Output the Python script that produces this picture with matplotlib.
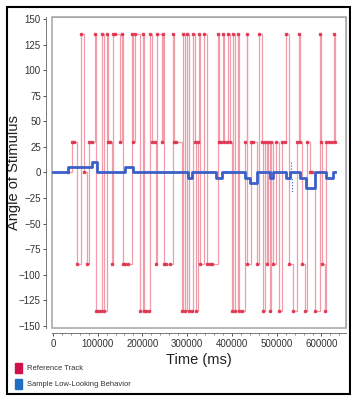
import matplotlib
matplotlib.use("Agg")
import matplotlib.pyplot as plt
from matplotlib.patches import Rectangle
from matplotlib.ticker import MultipleLocator

plt.rcParams['font.family'] = ['Liberation Sans', 'DejaVu Sans']

# reference track: time (s) and angle (deg)
ref_time_s = [33.5, 42.4, 46.9, 53.6, 62.5, 69.2, 75.9, 80.4, 87.0, 93.7,
              96.0, 100.4, 107.1, 109.4, 113.8, 120.5, 122.8, 127.2, 131.7, 133.9,
              138.4, 149.5, 154.0, 156.2, 160.7, 167.4, 176.3, 178.6, 183.0, 194.2,
              200.9, 203.1, 207.6, 214.3, 216.5, 221.0, 227.7, 229.9, 232.1, 243.3,
              245.5, 247.8, 252.2, 261.1, 267.8, 270.1, 274.5, 287.9, 290.2, 294.6,
              299.1, 303.6, 310.2, 312.5, 317.0, 319.2, 323.6, 325.9, 328.1, 337.0,
              343.7, 350.4, 354.9, 368.3, 370.5, 375.0, 379.4, 381.7, 388.4, 390.6,
              395.1, 399.5, 401.8, 406.2, 412.9, 415.2, 421.8, 428.5, 433.0, 434.1,
              441.9, 446.4, 455.3, 459.8, 466.5, 468.7, 473.2, 477.6, 479.9, 484.3,
              486.6, 491.0, 497.7, 504.4, 511.1, 517.8, 520.1, 526.8, 535.7, 544.6,
              549.1, 551.3, 555.8, 562.5, 566.9, 573.6, 578.1, 584.8, 596.0, 598.2,
              600.4, 607.1, 609.3, 616.0, 622.7, 627.2, 629.4]
ref_angle = [0, 30, 30, -90, 135, 0, -90, 30, 30, 135,
             -135, -135, -135, 135, -135, 135, 30, 30, -90, 135,
             135, 30, 135, -90, -90, -90, 135, 30, 135, -135,
             135, -135, -135, -135, 135, 30, 30, -90, 135, 30,
             135, -90, -90, -90, 135, 30, 30, -135, 135, -135,
             135, -135, -135, 135, 30, -135, 30, 135, -90, 135,
             -90, -90, -90, 135, 30, 30, 135, 30, 30, 135,
             30, -135, 135, -135, 135, -135, -135, 30, 135, -90,
             30, 30, -90, 135, 30, -135, 30, -90, 30, -135,
             30, -90, 30, -135, 30, 30, 135, -90, -135, 30,
             135, 30, -90, -135, 30, 0, 0, -135, 135, 30,
             -90, -135, 30, 30, 30, 135, 30]

# sample low-looking behaviour
beh_time_s = [0, 33.5, 87.0, 98.0, 160.7, 178.6, 301.0, 310.0, 363.8, 377.0,
              428.5, 440.0, 455.0, 486.0, 491.0, 521.0, 530.0, 551.0, 565.0, 585.0,
              611.0, 625.0, 630.0]
beh_angle = [0, 5, 10, 0, 5, 0, -5, 0, -5, 0,
             -5, -10, 0, -5, 0, -5, 0, -5, -15, 0,
             -5, 0, 0]
spike_time_s = [532.0, 532.0, 534.0, 534.0]
spike_angle = [10, -5, -5, -20]

ref_time = [t * 1000 for t in ref_time_s]
beh_time = [t * 1000 for t in beh_time_s]
spike_time = [t * 1000 for t in spike_time_s]

fig = plt.figure(figsize=(3.51, 3.96), dpi=100)
ax = fig.add_axes([0.148, 0.172, 0.838, 0.785])

ax.plot(ref_time, ref_angle, drawstyle='steps-post', color='#e85a70', alpha=0.6, lw=0.9)
ax.plot(ref_time, ref_angle, ls='none', marker='s', ms=2.0, color='#e0304c', alpha=0.85)
ax.plot(spike_time, spike_angle, color='#3a5fc8', lw=0.8, ls=':')
ax.plot(beh_time, beh_angle, drawstyle='steps-post', color='#3a5fc8', lw=2.0)

ax.set_xlim(-2000, 655000)
ax.set_ylim(-152, 152)
ax.yaxis.set_major_locator(MultipleLocator(25))
ax.xaxis.set_major_locator(MultipleLocator(100000))
ax.xaxis.set_minor_locator(MultipleLocator(20000))
ax.tick_params(labelsize=7, colors='#333333', length=2.5, width=0.6, pad=1.5)
ax.tick_params(which='minor', length=1.5, width=0.5, colors='#555555')

for side in ['top', 'right']:
    ax.spines[side].set_color('#aaaaaa')
for side in ['left', 'bottom']:
    ax.spines[side].set_position(('outward', 4))
    ax.spines[side].set_color('#777777')
    ax.spines[side].set_linewidth(0.7)
ax.add_patch(Rectangle((0, 0), 1, 1, transform=ax.transAxes, fill=False,
                       ec='#aaaaaa', lw=1.2, clip_on=False))

ax.set_ylabel('Angle of Stimulus', fontsize=10.5, color='#222222')
ax.yaxis.set_label_coords(-0.105, 0.5)
ax.set_xlabel('Time (ms)', fontsize=10.5, color='#222222', labelpad=3)

# legend drawn as little squares with captions
fig.patches.append(Rectangle((0.042, 0.058), 0.02, 0.025, transform=fig.transFigure,
                             color='#d0104a'))
fig.patches.append(Rectangle((0.042, 0.018), 0.02, 0.025, transform=fig.transFigure,
                             color='#1f6fc0'))
fig.text(0.078, 0.070, 'Reference Track', fontsize=5.5, va='center', color='#333333')
fig.text(0.078, 0.030, 'Sample Low-Looking Behavior', fontsize=5.5, va='center', color='#333333')

# outer border
fig.patches.append(Rectangle((0.02, 0.005), 0.978, 0.977, transform=fig.transFigure,
                             fill=False, ec='black', lw=1.5))

fig.savefig('out.png', dpi=100)
